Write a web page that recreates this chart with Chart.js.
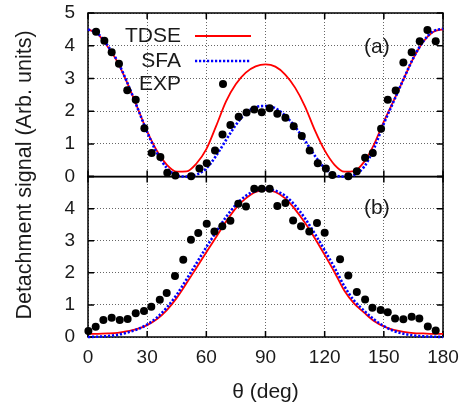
<!DOCTYPE html>
<html>
<head>
<meta charset="utf-8">
<script src="https://cdn.jsdelivr.net/npm/chart.js@4.4.0/dist/chart.umd.min.js"></script>
<style>
html, body { margin: 0; padding: 0; background: #fff; }
#wrap { width: 467px; height: 407px; }
</style>
</head>
<body>
<div id="wrap"><canvas id="c" width="467" height="407"></canvas></div>
<script>
// angle grid of the theory curves (deg)
let theta = [0, 5, 10, 15, 20, 25, 30, 35, 40, 45, 50, 55, 60, 65, 70, 75, 80, 85, 90,
             95, 100, 105, 110, 115, 120, 125, 130, 135, 140, 145, 150, 155, 160, 165, 170, 175, 180];

// panel (a)
let tdseA = [4.50, 4.35, 3.97, 3.50, 2.85, 2.12, 1.38, 0.78, 0.36, 0.15, 0.16, 0.40, 0.84, 1.55, 2.30, 2.83, 3.18, 3.37, 3.43,
             3.36, 3.12, 2.72, 2.15, 1.42, 0.80, 0.36, 0.15, 0.17, 0.45, 0.98, 1.68, 2.32, 2.98, 3.62, 4.12, 4.42, 4.50];
let sfaA  = [4.50, 4.37, 4.00, 3.52, 2.86, 2.11, 1.36, 0.72, 0.26, 0.04, 0.00, 0.06, 0.25, 0.64, 1.12, 1.58, 1.94, 2.12, 2.16,
             2.09, 1.86, 1.52, 1.10, 0.64, 0.26, 0.05, 0.00, 0.05, 0.30, 0.86, 1.62, 2.30, 2.98, 3.63, 4.13, 4.44, 4.52];
let expThetaA = [4.1, 8.3, 12.0, 15.7, 19.9, 24.2, 28.6, 32.3, 36.7, 40.2, 44.3, 52.3, 56.5, 60.2, 64.4, 68.2, 72.2, 76.4,
                 80.4, 84.3, 88.1, 92.1, 96.0, 100.1, 104.3, 108.4, 112.4, 116.5, 120.6, 123.9, 132.0, 136.3, 140.5,
                 144.4, 148.6, 152.0, 156.0, 159.9, 164.1, 168.2, 172.1, 176.3];
let expA = [4.43, 4.15, 3.80, 3.45, 2.64, 2.35, 1.48, 0.72, 0.60, 0.12, 0.03, 0.01, 0.25, 0.41, 0.80, 1.29, 1.58, 1.83,
            1.96, 2.05, 1.97, 2.09, 1.92, 1.80, 1.54, 1.24, 0.80, 0.41, 0.25, 0.05, 0.01, 0.16, 0.58,
            0.72, 1.46, 2.35, 2.63, 3.49, 3.80, 4.14, 4.48, 4.14];

// panel (b)
let tdseB = [0.10, 0.10, 0.11, 0.13, 0.18, 0.25, 0.37, 0.56, 0.84, 1.22, 1.68, 2.16, 2.64, 3.12, 3.60, 4.02, 4.32, 4.52, 4.58,
             4.52, 4.32, 3.98, 3.56, 3.08, 2.56, 2.02, 1.44, 1.04, 0.76, 0.50, 0.33, 0.22, 0.16, 0.12, 0.11, 0.10, 0.10];
let sfaB  = [0.00, 0.01, 0.03, 0.07, 0.14, 0.24, 0.39, 0.61, 0.92, 1.32, 1.80, 2.30, 2.80, 3.28, 3.74, 4.12, 4.40, 4.56, 4.61,
             4.56, 4.40, 4.10, 3.70, 3.22, 2.70, 2.16, 1.58, 1.13, 0.82, 0.55, 0.34, 0.19, 0.10, 0.05, 0.02, 0.01, 0.00];
let expThetaB = [0.2, 3.9, 7.8, 12.0, 16.1, 20.1, 24.2, 28.4, 32.1, 36.4, 39.9, 44.1, 48.3, 52.2, 55.9, 60.2, 64.1, 68.1,
                 72.2, 76.2, 80.1, 84.3, 88.1, 92.1, 96.0, 100.1, 104.0, 108.0, 112.2, 116.1, 120.0, 127.8, 132.0,
                 136.3, 140.5, 144.2, 148.4, 152.0, 155.7, 159.9, 164.1, 168.0, 172.3, 176.3];
let expB = [0.19, 0.32, 0.53, 0.60, 0.53, 0.56, 0.74, 0.81, 0.94, 1.16, 1.37, 1.90, 2.41, 3.03, 3.24, 3.53, 3.29, 3.45,
            3.62, 4.15, 4.07, 4.62, 4.62, 4.62, 4.08, 4.18, 3.63, 3.45, 3.29, 3.55, 3.25, 2.42, 1.92,
            1.40, 1.17, 0.91, 0.84, 0.77, 0.58, 0.55, 0.63, 0.58, 0.33, 0.20];

let xTicks = [0, 30, 60, 90, 120, 150, 180];
let seriesNames = ['TDSE', 'SFA', 'EXP'];
let panelNames = ['(a)', '(b)'];
let xTitle = 'θ (deg)';
let yTitle = 'Detachment signal (Arb. units)';

let FONT = "'Liberation Sans', Arial, Helvetica, sans-serif";
let TEXT = '#1a1a1a';

function pts(xs, ys) {
    return xs.map((x, i) => ({ x: x, y: ys[i] }));
}

function expSet(xs, ys, axis) {
    return { label: seriesNames[2], data: pts(xs, ys), yAxisID: axis, showLine: false,
             pointRadius: 4, pointHoverRadius: 4, pointBackgroundColor: '#000', pointBorderWidth: 0, clip: false };
}
function sfaSet(ys, axis) {
    return { label: seriesNames[1], data: pts(theta, ys), yAxisID: axis, showLine: true, pointRadius: 0,
             borderColor: '#0000ff', borderWidth: 2.6, borderDash: [2.2, 1.8], cubicInterpolationMode: 'monotone', clip: 3 };
}
function tdseSet(ys, axis) {
    return { label: seriesNames[0], data: pts(theta, ys), yAxisID: axis, showLine: true, pointRadius: 0,
             borderColor: '#ff0000', borderWidth: 1.8, cubicInterpolationMode: 'monotone', clip: 3 };
}

let gridStyle = { color: 'rgba(0,0,0,0.6)', lineWidth: 1, drawTicks: false };
let borderStyle = { display: false, dash: [1, 2] };

// fixed axis box sizes, no extra label padding
function fitY(s) {
    s.width = 88;
    s.paddingTop = 0;
    s.paddingBottom = 0;
}
function fitX(s) {
    s.height = 70;
    s.paddingLeft = 0;
    s.paddingRight = 0;
}

// frame, inward tick marks, panel tags, legend and y title
let decor = {
    id: 'decor',
    beforeDatasetsDraw(chart) {
        let ctx = chart.ctx, a = chart.chartArea, xs = chart.scales.x;
        ctx.save();
        ctx.strokeStyle = '#000';
        ctx.lineWidth = 1.5;
        ['yTop', 'yBot'].forEach(id => {
            let s = chart.scales[id];
            ctx.strokeRect(a.left, s.top, a.right - a.left, s.bottom - s.top);
            ctx.beginPath();
            s.ticks.forEach(t => {
                let py = s.getPixelForValue(t.value);
                ctx.moveTo(a.left, py); ctx.lineTo(a.left + 6, py);
                ctx.moveTo(a.right, py); ctx.lineTo(a.right - 6, py);
            });
            xs.ticks.forEach(t => {
                let px = xs.getPixelForValue(t.value);
                ctx.moveTo(px, s.top); ctx.lineTo(px, s.top + 6);
                ctx.moveTo(px, s.bottom); ctx.lineTo(px, s.bottom - 6);
            });
            ctx.stroke();
        });
        ctx.restore();
    },
    afterDatasetsDraw(chart) {
        let ctx = chart.ctx, a = chart.chartArea, xs = chart.scales.x;
        ctx.save();
        ctx.fillStyle = TEXT;
        ctx.font = '21px ' + FONT;
        ctx.textAlign = 'center';
        ctx.textBaseline = 'middle';
        ctx.fillText(panelNames[0], xs.getPixelForValue(146.5), chart.scales.yTop.getPixelForValue(3.95));
        ctx.fillText(panelNames[1], xs.getPixelForValue(146.5), chart.scales.yBot.getPixelForValue(4.0));

        // legend: text right-aligned, sample to the right
        let tx = a.left + 93, s0 = a.left + 107, s1 = a.left + 163;
        let rows = [a.top + 23, a.top + 48, a.top + 71];
        ctx.textAlign = 'right';
        seriesNames.forEach((n, i) => ctx.fillText(n, tx, rows[i]));
        ctx.lineCap = 'butt';
        ctx.strokeStyle = '#ff0000'; ctx.lineWidth = 1.8;
        ctx.beginPath(); ctx.moveTo(s0, rows[0]); ctx.lineTo(s1, rows[0]); ctx.stroke();
        ctx.strokeStyle = '#0000ff'; ctx.lineWidth = 2.6; ctx.setLineDash([2.2, 1.8]);
        ctx.beginPath(); ctx.moveTo(s0, rows[1]); ctx.lineTo(s1, rows[1]); ctx.stroke();
        ctx.setLineDash([]);
        ctx.fillStyle = '#000';
        ctx.beginPath(); ctx.arc((s0 + s1) / 2, rows[2], 4, 0, Math.PI * 2); ctx.fill();

        // shared y title
        ctx.fillStyle = TEXT;
        ctx.font = '21.5px ' + FONT;
        ctx.textAlign = 'center';
        ctx.translate(25, (a.top + a.bottom) / 2);
        ctx.rotate(-Math.PI / 2);
        ctx.fillText(yTitle, 0, 0);
        ctx.restore();
    }
};

new Chart(document.getElementById('c'), {
    type: 'scatter',
    data: {
        datasets: [
            expSet(expThetaA, expA, 'yTop'),
            expSet(expThetaB, expB, 'yBot'),
            sfaSet(sfaA, 'yTop'),
            sfaSet(sfaB, 'yBot'),
            tdseSet(tdseA, 'yTop'),
            tdseSet(tdseB, 'yBot')
        ]
    },
    options: {
        responsive: false,
        animation: false,
        devicePixelRatio: 1,
        layout: { padding: { left: 0, right: 24, top: 13, bottom: 0 } },
        plugins: { legend: { display: false }, tooltip: { enabled: false } },
        scales: {
            x: {
                type: 'linear', min: 0, max: 180,
                afterBuildTicks: s => { s.ticks = xTicks.map(v => ({ value: v })); },
                ticks: { padding: 9, autoSkip: false, color: TEXT, font: { family: FONT, size: 19 } },
                grid: gridStyle, border: borderStyle,
                title: { display: true, text: xTitle, color: TEXT, font: { family: FONT, size: 21 }, padding: { top: 0, bottom: 2 } },
                afterFit: fitX
            },
            yBot: {
                type: 'linear', position: 'left', stack: 'panels', stackWeight: 1,
                min: 0, max: 5,
                ticks: { stepSize: 1, autoSkip: false, padding: 13, color: TEXT, font: { family: FONT, size: 19 },
                         callback: v => (v === 5 ? '' : v) },
                grid: gridStyle, border: borderStyle,
                afterFit: fitY
            },
            yTop: {
                type: 'linear', position: 'left', stack: 'panels', stackWeight: 1.02,
                min: 0, max: 5,
                ticks: { stepSize: 1, autoSkip: false, padding: 13, color: TEXT, font: { family: FONT, size: 19 } },
                grid: gridStyle, border: borderStyle,
                afterFit: fitY
            }
        }
    },
    plugins: [decor]
});
</script>
</body>
</html>
